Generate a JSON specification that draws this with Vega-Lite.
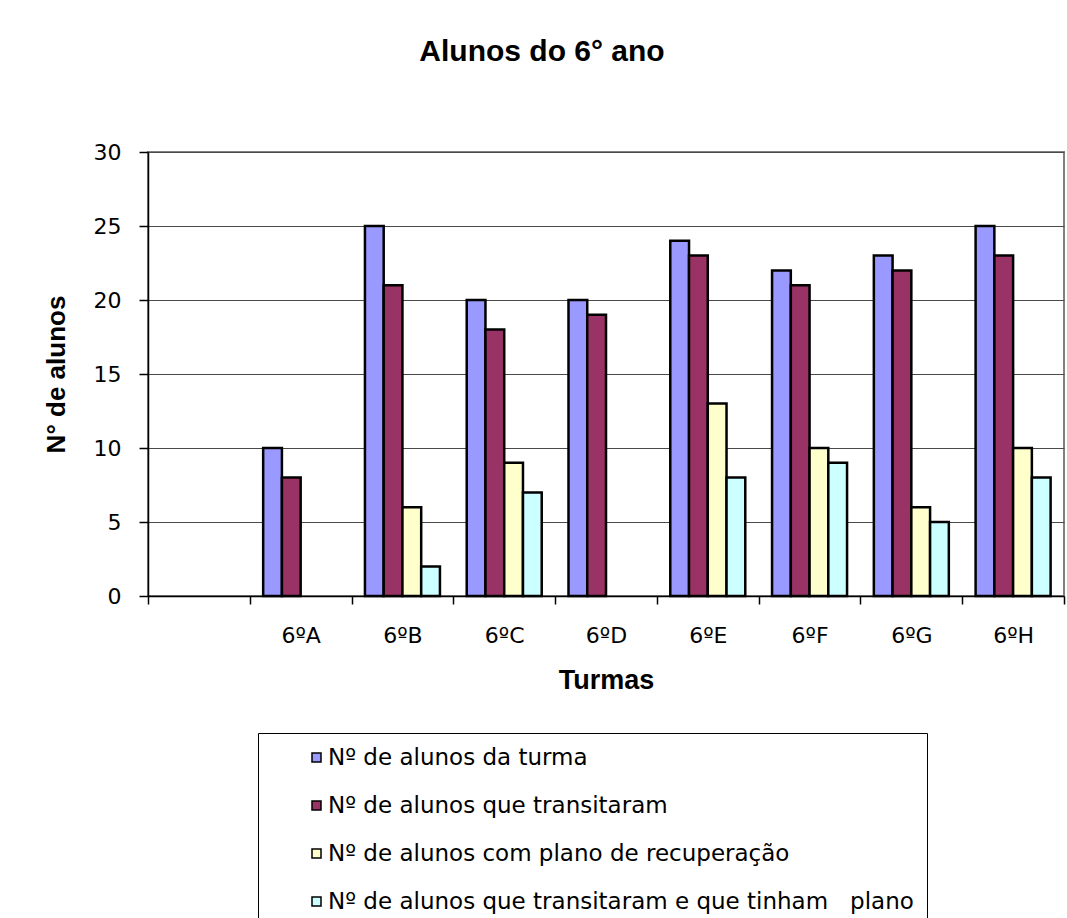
{
  "$schema": "https://vega.github.io/schema/vega-lite/v6.json",
  "width": 916,
  "height": 444,
  "autosize": "none",
  "padding": {"left": 148, "top": 152, "right": 3, "bottom": 322},
  "background": "white",
  "title": {
    "text": "Alunos do 6° ano",
    "font": "Liberation Sans",
    "fontSize": 30,
    "fontWeight": "bold",
    "color": "black",
    "anchor": "middle",
    "offset": 74,
    "dx": -64
  },
  "config": {
    "view": {"stroke": "#808080", "strokeWidth": 2},
    "axis": {
      "labelFont": "DejaVu Sans",
      "labelColor": "black",
      "titleFont": "Liberation Sans",
      "titleColor": "black",
      "titleFontWeight": "bold",
      "domainColor": "black",
      "tickColor": "black",
      "domainWidth": 1.5,
      "tickWidth": 1.5
    },
    "legend": {
      "labelFont": "DejaVu Sans",
      "labelColor": "black"
    }
  },
  "data": {
    "values": [
      {"turma": "6ºA", "serie": "Nº de alunos da turma", "valor": 10},
      {"turma": "6ºA", "serie": "Nº de alunos que transitaram", "valor": 8},
      {"turma": "6ºB", "serie": "Nº de alunos da turma", "valor": 25},
      {"turma": "6ºB", "serie": "Nº de alunos que transitaram", "valor": 21},
      {"turma": "6ºB", "serie": "Nº de alunos com plano de recuperação", "valor": 6},
      {"turma": "6ºB", "serie": "Nº de alunos que transitaram e que tinham   plano", "valor": 2},
      {"turma": "6ºC", "serie": "Nº de alunos da turma", "valor": 20},
      {"turma": "6ºC", "serie": "Nº de alunos que transitaram", "valor": 18},
      {"turma": "6ºC", "serie": "Nº de alunos com plano de recuperação", "valor": 9},
      {"turma": "6ºC", "serie": "Nº de alunos que transitaram e que tinham   plano", "valor": 7},
      {"turma": "6ºD", "serie": "Nº de alunos da turma", "valor": 20},
      {"turma": "6ºD", "serie": "Nº de alunos que transitaram", "valor": 19},
      {"turma": "6ºE", "serie": "Nº de alunos da turma", "valor": 24},
      {"turma": "6ºE", "serie": "Nº de alunos que transitaram", "valor": 23},
      {"turma": "6ºE", "serie": "Nº de alunos com plano de recuperação", "valor": 13},
      {"turma": "6ºE", "serie": "Nº de alunos que transitaram e que tinham   plano", "valor": 8},
      {"turma": "6ºF", "serie": "Nº de alunos da turma", "valor": 22},
      {"turma": "6ºF", "serie": "Nº de alunos que transitaram", "valor": 21},
      {"turma": "6ºF", "serie": "Nº de alunos com plano de recuperação", "valor": 10},
      {"turma": "6ºF", "serie": "Nº de alunos que transitaram e que tinham   plano", "valor": 9},
      {"turma": "6ºG", "serie": "Nº de alunos da turma", "valor": 23},
      {"turma": "6ºG", "serie": "Nº de alunos que transitaram", "valor": 22},
      {"turma": "6ºG", "serie": "Nº de alunos com plano de recuperação", "valor": 6},
      {"turma": "6ºG", "serie": "Nº de alunos que transitaram e que tinham   plano", "valor": 5},
      {"turma": "6ºH", "serie": "Nº de alunos da turma", "valor": 25},
      {"turma": "6ºH", "serie": "Nº de alunos que transitaram", "valor": 23},
      {"turma": "6ºH", "serie": "Nº de alunos com plano de recuperação", "valor": 10},
      {"turma": "6ºH", "serie": "Nº de alunos que transitaram e que tinham   plano", "valor": 8}
    ]
  },
  "mark": {"type": "bar", "stroke": "black", "strokeWidth": 2.5},
  "encoding": {
    "x": {
      "field": "turma",
      "type": "nominal",
      "scale": {
        "domain": [" ", "6ºA", "6ºB", "6ºC", "6ºD", "6ºE", "6ºF", "6ºG", "6ºH"],
        "paddingInner": 0,
        "paddingOuter": 0
      },
      "axis": {
        "title": "Turmas",
        "titleFontSize": 27,
        "titlePadding": 21,
        "labelFontSize": 22,
        "labelAngle": 0,
        "labelPadding": 21,
        "tickSize": 8,
        "tickBand": "extent",
        "grid": false
      }
    },
    "xOffset": {
      "field": "serie",
      "type": "nominal",
      "scale": {
        "domain": [
          "Nº de alunos da turma",
          "Nº de alunos que transitaram",
          "Nº de alunos com plano de recuperação",
          "Nº de alunos que transitaram e que tinham   plano"
        ],
        "paddingInner": 0,
        "paddingOuter": 0.714
      }
    },
    "y": {
      "field": "valor",
      "type": "quantitative",
      "scale": {"domain": [0, 30], "nice": false},
      "axis": {
        "title": "N° de alunos",
        "titleFontSize": 26,
        "titlePadding": 24,
        "labelFontSize": 22,
        "labelPadding": 18,
        "tickSize": 9,
        "values": [0, 5, 10, 15, 20, 25, 30],
        "grid": true,
        "gridColor": "#4a4a4a",
        "gridWidth": 1.2
      }
    },
    "color": {
      "field": "serie",
      "type": "nominal",
      "scale": {
        "domain": [
          "Nº de alunos da turma",
          "Nº de alunos que transitaram",
          "Nº de alunos com plano de recuperação",
          "Nº de alunos que transitaram e que tinham   plano"
        ],
        "range": ["#9999FF", "#993366", "#FFFFCC", "#CCFFFF"]
      },
      "legend": {
        "title": null,
        "orient": "none",
        "legendX": 110,
        "legendY": 581,
        "direction": "vertical",
        "strokeColor": "black",
        "padding": 13,
        "symbolOffset": 34,
        "symbolType": "square",
        "symbolSize": 81,
        "symbolStrokeColor": "black",
        "symbolStrokeWidth": 1.5,
        "labelFontSize": 23,
        "labelOffset": 0,
        "labelLimit": 800,
        "rowPadding": 24,
        "labelExpr": "replace(datum.label, '   ', ' \u00a0\u00a0')"
      }
    }
  }
}
